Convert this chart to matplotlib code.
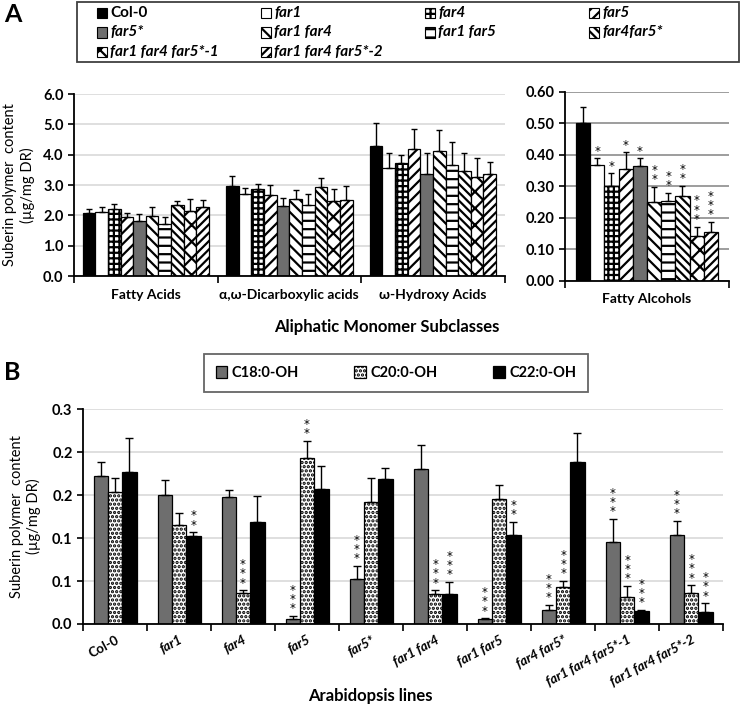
import matplotlib.pyplot as plt
import numpy as np
from matplotlib.patches import Rectangle

plt.rcParams['font.family'] = ['Lato', 'DejaVu Sans']
plt.rcParams['font.weight'] = 'bold'
plt.rcParams['hatch.linewidth'] = 1.6

# Panel A data
lines = ['Col-0', 'far1', 'far4', 'far5', 'far5*', 'far1 far4', 'far1 far5',
         'far4far5*', 'far1 far4 far5*-1', 'far1 far4 far5*-2']
subclasses = ['Fatty Acids', 'α,ω-Dicarboxylic acids', 'ω-Hydroxy Acids']
fatty_acids = [2.09, 2.11, 2.20, 1.93, 1.82, 1.97, 1.71, 2.33, 2.14, 2.28]
fatty_acids_err = [0.11, 0.18, 0.19, 0.15, 0.21, 0.31, 0.22, 0.13, 0.39, 0.24]
dicarboxylic = [2.98, 2.72, 2.88, 2.68, 2.31, 2.53, 2.35, 2.94, 2.46, 2.52]
dicarboxylic_err = [0.31, 0.18, 0.16, 0.31, 0.26, 0.31, 0.36, 0.28, 0.41, 0.46]
hydroxy = [4.28, 3.56, 3.73, 4.19, 3.36, 4.12, 3.66, 3.46, 3.28, 3.36]
hydroxy_err = [0.78, 0.50, 0.27, 0.67, 0.70, 0.68, 0.75, 0.59, 0.62, 0.39]
alcohols = [0.502, 0.366, 0.300, 0.356, 0.364, 0.251, 0.254, 0.269, 0.142, 0.154]
alcohols_err = [0.048, 0.022, 0.041, 0.051, 0.024, 0.048, 0.025, 0.032, 0.030, 0.033]
alcohols_sig = ['', '*', '*', '*', '*', '**', '**', '**', '***', '***']

# Panel B data
genotypes = ['Col-0', 'far1', 'far4', 'far5', 'far5*', 'far1 far4', 'far1 far5',
             'far4 far5*', 'far1 far4 far5*-1', 'far1 far4 far5*-2']
chains = ['C18:0-OH', 'C20:0-OH', 'C22:0-OH']
c18 = [0.206, 0.180, 0.177, 0.007, 0.063, 0.217, 0.007, 0.020, 0.115, 0.124]
c18_err = [0.020, 0.021, 0.010, 0.004, 0.018, 0.033, 0.001, 0.007, 0.032, 0.020]
c18_sig = ['', '', '', '***', '***', '', '***', '***', '***', '***']
c20 = [0.184, 0.138, 0.043, 0.232, 0.170, 0.042, 0.174, 0.052, 0.037, 0.043]
c20_err = [0.020, 0.017, 0.004, 0.024, 0.034, 0.005, 0.020, 0.008, 0.016, 0.011]
c20_sig = ['', '', '***', '**', '', '***', '', '***', '***', '***']
c22 = [0.212, 0.123, 0.142, 0.189, 0.203, 0.042, 0.124, 0.226, 0.018, 0.017]
c22_err = [0.048, 0.005, 0.037, 0.032, 0.015, 0.017, 0.019, 0.041, 0.002, 0.012]
c22_sig = ['', '**', '', '', '', '***', '**', '', '***', '***']

# bar styles for the ten lines: (face, hatch)
styles = [('black', ''), ('white', ''), ('white', '+++'), ('white', '///'),
          ('#6e6e6e', ''), ('white', '\\\\\\'), ('white', '--'),
          ('white', '\\\\\\\\'), ('white', 'xx'), ('white', '////')]

fig = plt.figure(figsize=(7.4, 7.07), dpi=100)
W, H = 740.0, 707.0

def style_axis(ax):
    ax.spines['top'].set_visible(False)
    ax.spines['right'].set_visible(False)
    ax.spines['left'].set_linewidth(1.3)
    ax.spines['bottom'].set_linewidth(1.3)
    ax.tick_params(axis='y', length=4, width=1.2, labelsize=10.5)
    ax.tick_params(axis='x', which='major', length=0, labelsize=10, pad=9)
    ax.tick_params(axis='x', which='minor', length=5, width=1.2)
    ax.set_axisbelow(True)

def stars(ax, x, y, s):
    if s:
        ax.text(x, y, '\n'.join(s), ha='center', va='bottom', fontsize=8.5,
                linespacing=0.62, family='DejaVu Sans', fontweight='normal')

# ---- Panel A, left
axA = fig.add_axes([0.100, 0.6096, 0.582, 0.2574])
style_axis(axA)
a_vals = [fatty_acids, dicarboxylic, hydroxy]
a_errs = [fatty_acids_err, dicarboxylic_err, hydroxy_err]
w = 0.088
for j in range(10):
    xs = np.arange(3) + 0.5 + (j - 4.5) * w
    vals = [a_vals[i][j] for i in range(3)]
    errs = [a_errs[i][j] for i in range(3)]
    axA.bar(xs, vals, w, color=styles[j][0], hatch=styles[j][1], edgecolor='black',
            linewidth=0.9, yerr=[np.zeros(3), errs], capsize=2.5,
            error_kw=dict(elinewidth=1, capthick=1, ecolor='black'))
axA.set_xlim(0, 3)
axA.set_ylim(0, 6)
axA.set_yticks(np.arange(0, 6.01, 1))
axA.set_yticklabels(['%.1f' % v for v in np.arange(0, 6.01, 1)])
axA.set_xticks(np.arange(3) + 0.5)
axA.set_xticklabels(subclasses)
axA.set_xticks(np.arange(4), minor=True)
axA.yaxis.grid(True, color='#d9d9d9', linewidth=1.2)
axA.set_ylabel('Suberin polymer  content\n(µg/mg DR)', fontsize=10.5, labelpad=6)

# ---- Panel A, right
axR = fig.add_axes([0.7635, 0.603, 0.2216, 0.2673])
style_axis(axR)
wr = 0.0866
xs = 0.5 + (np.arange(10) - 4.5) * wr
for j in range(10):
    axR.bar(xs[j], alcohols[j], wr, color=styles[j][0], hatch=styles[j][1],
            edgecolor='black', linewidth=0.9, yerr=[[0], [alcohols_err[j]]], capsize=2.5,
            error_kw=dict(elinewidth=1, capthick=1, ecolor='black'))
    stars(axR, xs[j], alcohols[j] + alcohols_err[j] + 0.002, alcohols_sig[j])
axR.set_xlim(0, 1)
axR.set_ylim(0, 0.6)
axR.set_yticks(np.arange(0, 0.601, 0.1))
axR.set_yticklabels(['%.2f' % v for v in np.arange(0, 0.601, 0.1)])
axR.set_xticks([0.5])
axR.set_xticklabels(['Fatty Alcohols'])
axR.set_xticks([0, 1], minor=True)
axR.yaxis.grid(True, color='#8c8c8c', linewidth=1.2)

fig.text(0.523, 1 - 327 / H, 'Aliphatic Monomer Subclasses', ha='center',
         va='center', fontsize=12)
fig.text(0.005, 1 - 14 / H, 'A', fontsize=18, va='center')

# legend A, laid out row by row in four columns
fig.add_artist(Rectangle((77 / W, 1 - 62 / H), 662 / W, 60 / H, transform=fig.transFigure,
                         facecolor='none', edgecolor='#404040', linewidth=1.3))
col_x = [97, 261, 425, 589]
row_y = [13, 32.5, 52]
for j in range(10):
    r, c = divmod(j, 4)
    x0, y0 = col_x[c], row_y[r]
    rect = Rectangle((x0 / W, 1 - (y0 + 5) / H), 10 / W, 10 / H, transform=fig.transFigure,
                     facecolor=styles[j][0], hatch=styles[j][1], edgecolor='black',
                     linewidth=0.8)
    fig.add_artist(rect)
    fig.text((x0 + 13) / W, 1 - y0 / H, lines[j], va='center', ha='left', fontsize=11,
             style='normal' if j == 0 else 'italic')

# ---- Panel B
axB = fig.add_axes([0.1122, 0.1174, 0.865, 0.304])
style_axis(axB)
wb = 0.224
b_vals = [c18, c20, c22]
b_errs = [c18_err, c20_err, c22_err]
b_sigs = [c18_sig, c20_sig, c22_sig]
b_styles = [('#6e6e6e', ''), ('white', '....'), ('black', '')]
for k in range(3):
    xs = np.arange(10) + 0.5 + (k - 1) * wb
    axB.bar(xs, b_vals[k], wb, color=b_styles[k][0], hatch=b_styles[k][1],
            edgecolor='black', linewidth=0.9, yerr=[np.zeros(10), b_errs[k]],
            capsize=3, error_kw=dict(elinewidth=1, capthick=1, ecolor='black'),
            label=chains[k])
    for i in range(10):
        stars(axB, xs[i], b_vals[k][i] + b_errs[k][i] + 0.001, b_sigs[k][i])
axB.set_xlim(0, 10)
axB.set_ylim(0, 0.3)
bt = np.arange(0, 0.301, 0.06)
axB.set_yticks(bt)
axB.set_yticklabels(['%.1f' % v for v in bt])
axB.set_xticks(np.arange(10) + 0.5)
axB.set_xticklabels(genotypes, rotation=28, ha='right', rotation_mode='anchor')
for t in axB.get_xticklabels():
    if t.get_text() != 'Col-0':
        t.set_style('italic')
axB.tick_params(axis='x', which='major', pad=7, labelsize=9.5)
axB.set_xticks(np.arange(11), minor=True)
axB.yaxis.grid(True, color='#d9d9d9', linewidth=1.2)
axB.set_ylabel('Suberin polymer  content\n(µg/mg DR)', fontsize=10.5, labelpad=8)
fig.text(0.5, 1 - 696 / H, 'Arabidopsis lines', ha='center', va='center', fontsize=12)

fig.text(0.005, 1 - 373 / H, 'B', fontsize=18, va='center')
hb, lb = axB.get_legend_handles_labels()
legB = fig.legend(hb, lb, ncol=3, loc='center', bbox_to_anchor=(0.535, 1 - 373 / H),
                  frameon=True, fancybox=False, edgecolor='#404040', fontsize=10.5,
                  handlelength=0.8, handleheight=0.8, handletextpad=0.3,
                  columnspacing=3.8, borderpad=0.8)
legB.get_frame().set_linewidth(1.3)

fig.savefig('out.png', dpi=100)
